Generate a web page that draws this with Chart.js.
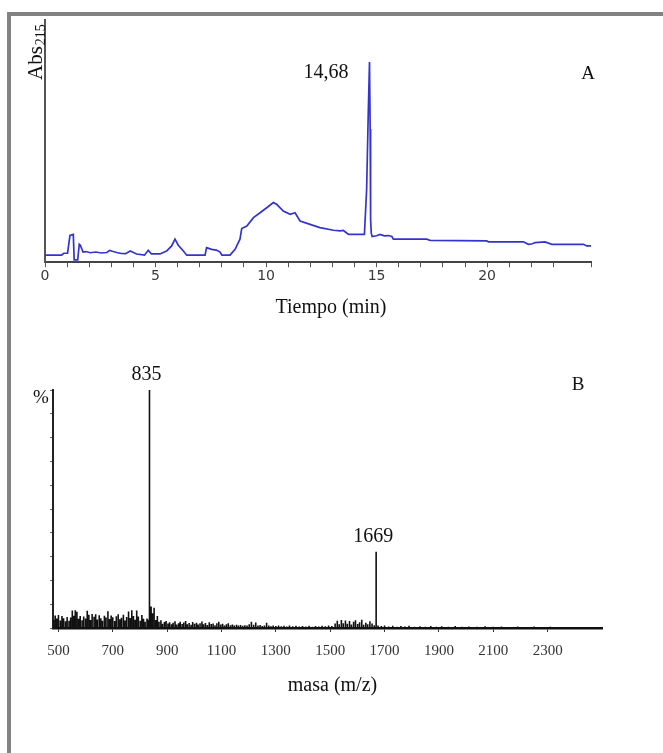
<!DOCTYPE html>
<html>
<head>
<meta charset="utf-8">
<script src="https://cdn.jsdelivr.net/npm/chart.js@4.4.1/dist/chart.umd.min.js"></script>
<style>
  html, body { margin: 0; padding: 0; background: #fff; width: 663px; height: 753px; overflow: hidden; }
  #frame { position: absolute; left: 7px; top: 12px; width: 720px; height: 800px;
           border-top: 4px solid #828282; border-left: 4px solid #828282; box-sizing: border-box; }
  canvas { position: absolute; left: 0; }
  #chartA { top: 0; }
  #chartB { top: 330px; }
</style>
</head>
<body>
<div id="frame"></div>
<canvas id="chartA" width="663" height="330"></canvas>
<canvas id="chartB" width="663" height="423"></canvas>
<script>
// ---- Panel A: HPLC chromatogram (absorbance at 215 nm vs time) ----
const retentionTime = [
  0.00, 0.75, 0.85, 1.02, 1.13, 1.28, 1.32, 1.48, 1.55, 1.60, 1.72, 1.85, 2.05, 2.30, 2.55, 2.80,
  2.92, 3.05, 3.24, 3.45, 3.65, 3.85, 4.00, 4.15, 4.50, 4.67, 4.82, 5.20, 5.50, 5.73, 5.88, 6.03,
  6.26, 6.41, 7.24, 7.31, 7.54, 7.75, 7.92, 8.00, 8.37, 8.60, 8.82, 8.90, 9.13, 9.43, 9.73, 10.03,
  10.33, 10.48, 10.78, 11.09, 11.31, 11.54, 11.99, 12.44, 13.05, 13.35, 13.50, 13.73, 14.45, 14.55,
  14.62, 14.68, 14.71, 14.73, 14.76, 14.80, 15.00, 15.16, 15.35, 15.55, 15.69, 15.76, 17.27, 17.42,
  19.98, 20.06, 21.64, 21.87, 22.05, 22.17, 22.62, 22.93, 24.36, 24.51, 24.70
];
const absorbance = [
  2.9, 2.9, 3.7, 3.7, 11.1, 11.5, 1.0, 1.0, 7.4, 7.0, 4.2, 4.4, 3.9, 4.2, 3.8, 4.0,
  4.9, 4.5, 4.0, 3.6, 3.5, 4.6, 4.0, 3.4, 2.9, 4.9, 3.4, 3.4, 4.6, 6.7, 9.5, 7.0,
  4.6, 2.9, 2.9, 6.0, 5.3, 5.0, 4.2, 2.9, 2.9, 5.3, 9.5, 13.9, 14.9, 18.4, 20.4, 22.5,
  24.6, 23.9, 21.1, 19.8, 20.4, 17.0, 15.6, 14.3, 13.2, 12.9, 13.1, 11.5, 11.5, 30.0,
  60.0, 82.7, 55.0, 17.7, 12.0, 10.6, 10.9, 11.5, 10.9, 11.0, 10.6, 9.5, 9.5, 9.05,
  8.8, 8.4, 8.4, 7.4, 7.6, 8.1, 8.4, 7.4, 7.4, 6.7, 6.7
];
const labelledRetention = 14.68;
const timeAxisMax = 24.7;
const timeTickStep = 1;
const timeLabelEvery = 5;

// ---- Panel B: ESI mass spectrum of the collected fraction ----
const massTickLabels = [500, 700, 900, 1100, 1300, 1500, 1700, 1900, 2100, 2300];
const labelledMz = [835, 1669];
const labelledIntensity = [100, 32];
const noiseMz = [
  482, 488, 494, 500, 507, 513, 519, 526, 532, 539, 545, 551, 556, 562, 568, 574, 580, 587, 593, 600,
  606, 612, 618, 624, 631, 637, 643, 650, 656, 662, 669, 675, 682, 688, 694, 700, 707, 713, 720, 726,
  732, 739, 745, 751, 758, 764, 770, 776, 782, 788, 794, 801, 807, 813, 819, 826, 831, 841, 846, 852,
  858, 864, 870, 877, 883, 890, 896, 903, 909, 916, 922, 929, 935, 942, 948, 955, 961, 968, 974, 981,
  988, 994, 1001, 1008, 1014, 1021, 1028, 1034, 1041, 1048, 1055, 1062, 1069, 1076, 1083, 1090, 1097,
  1104, 1111, 1118, 1125, 1133, 1140, 1147, 1155, 1162, 1170, 1178, 1186, 1194, 1202, 1210, 1218, 1226,
  1234, 1242, 1250, 1258, 1266, 1274, 1282, 1290, 1300, 1310, 1320, 1330, 1340, 1350, 1362, 1374, 1386,
  1398, 1410, 1422, 1434, 1446, 1458, 1470, 1482, 1494, 1506, 1518, 1526, 1533, 1541, 1548, 1556, 1563,
  1571, 1578, 1586, 1593, 1601, 1608, 1616, 1623, 1631, 1638, 1646, 1654, 1662, 1676, 1688, 1700, 1715,
  1730, 1745, 1760, 1775, 1790, 1810, 1830, 1850, 1870, 1890, 1910, 1935, 1960, 1985, 2010, 2040, 2070,
  2100, 2130, 2160, 2190, 2220, 2250, 2280, 2310, 2340
];
const noiseIntensity = [
  3.5, 5.2, 4.0, 5.5, 3.2, 5.0, 4.1, 2.8, 4.6, 3.0, 4.4, 7.4, 5.1, 7.5, 6.8, 3.9, 5.0, 3.3, 4.8, 4.0,
  7.2, 5.6, 3.4, 5.9, 4.7, 5.8, 3.6, 5.4, 4.1, 3.0, 5.1, 4.4, 7.0, 3.8, 5.3, 4.5, 2.9, 4.9, 5.8, 3.7,
  4.3, 5.6, 3.1, 4.6, 6.9, 4.2, 7.5, 5.0, 3.5, 7.4, 4.8, 3.0, 5.5, 3.9, 2.6, 4.0, 3.5, 9.0, 6.2, 8.5,
  3.4, 5.0, 2.6, 3.3, 1.8, 2.5, 2.9, 1.9, 2.4, 1.6, 2.2, 2.8, 1.5, 2.0, 2.6, 1.7, 2.3, 2.9, 1.6, 2.1,
  1.4, 2.5, 1.8, 2.2, 1.5, 2.0, 2.7, 1.6, 2.1, 1.3, 2.4, 1.7, 1.9, 1.2, 2.0, 2.6, 1.5,
  1.8, 1.1, 1.6, 2.0, 1.2, 1.5, 1.0, 1.4, 1.1, 1.3, 0.9, 1.2, 1.0, 1.6, 2.6, 1.4, 2.3,
  1.0, 1.3, 0.8, 1.1, 2.2, 1.0, 0.7, 1.0, 0.8, 1.1, 0.7, 0.9, 0.6, 1.0, 0.7, 0.9, 0.6,
  0.8, 0.6, 0.9, 0.5, 0.8, 0.6, 0.9, 0.7, 1.0, 0.8, 1.9, 3.0, 1.6, 3.4, 2.0, 3.2, 1.8,
  2.9, 1.5, 2.6, 3.3, 1.7, 2.4, 3.5, 1.4, 2.2, 1.6, 2.8, 1.9, 1.2, 1.0, 0.8, 1.1, 0.6,
  0.9, 0.5, 0.8, 0.6, 0.9, 0.5, 0.7, 0.5, 0.8, 0.5, 0.7, 0.5, 0.8, 0.5, 0.6, 0.5, 0.7,
  0.5, 0.6, 0.4, 0.6, 0.4, 0.6, 0.4, 0.5, 0.4
];
const massAxisMin = 480;
const massAxisMax = 2500;

const SERIF = "'Liberation Serif', 'Times New Roman', serif";
const TEXT = '#111';

// Text layer for the chromatogram: peak label, panel letter and axis titles
const chromatogramText = {
  id: 'chromatogramText',
  afterDraw(chart) {
    const { ctx, chartArea: a, scales: { x, y } } = chart;
    ctx.save();
    ctx.fillStyle = TEXT;
    const i = retentionTime.indexOf(labelledRetention);
    const px = x.getPixelForValue(labelledRetention);
    const py = y.getPixelForValue(absorbance[i]);
    ctx.font = `20px ${SERIF}`;
    ctx.textAlign = 'right';
    ctx.textBaseline = 'middle';
    ctx.fillText(labelledRetention.toFixed(2).replace('.', ','), px - 21, py + 11);

    ctx.textAlign = 'center';
    ctx.font = `19px ${SERIF}`;
    ctx.fillText('A', a.right - 3, a.top + 54);

    ctx.font = `20px ${SERIF}`;
    ctx.fillText('Tiempo (min)', (a.left + a.right) / 2 + 13, a.bottom + 46);

    // rotated y title with subscript wavelength
    ctx.translate(a.left - 3, a.top + 60);
    ctx.rotate(-Math.PI / 2);
    ctx.textAlign = 'left';
    ctx.textBaseline = 'alphabetic';
    ctx.font = `21px ${SERIF}`;
    ctx.fillText('Abs', 0, 0);
    const w = ctx.measureText('Abs').width;
    ctx.font = `14px ${SERIF}`;
    ctx.fillText('215', w + 1, 3);
    ctx.restore();
  }
};

// Text layer for the spectrum: m/z labels, panel letter, axis titles
const spectrumText = {
  id: 'spectrumText',
  afterDraw(chart) {
    const { ctx, chartArea: a, scales: { x, y } } = chart;
    ctx.save();
    ctx.fillStyle = TEXT;
    ctx.textAlign = 'center';
    ctx.textBaseline = 'middle';
    ctx.font = `20px ${SERIF}`;
    labelledMz.forEach((m, i) => {
      ctx.fillText(String(m), x.getPixelForValue(m) - 3, y.getPixelForValue(labelledIntensity[i]) - 15);
    });
    ctx.font = `19px ${SERIF}`;
    ctx.fillText('B', a.right - 24, a.top - 5);
    ctx.fillText('%', a.left - 12, a.top + 8);
    ctx.font = `20px ${SERIF}`;
    ctx.fillText('masa (m/z)', (a.left + a.right) / 2 + 5, a.bottom + 58);
    ctx.restore();
  }
};

new Chart(document.getElementById('chartA'), {
  type: 'line',
  data: {
    datasets: [{
      data: retentionTime.map((t, i) => ({ x: t, y: absorbance[i] })),
      borderColor: '#3434cc',
      borderWidth: 1.7,
      pointRadius: 0,
      tension: 0,
      fill: false
    }]
  },
  options: {
    responsive: false,
    animation: false,
    events: [],
    layout: { padding: { left: 45, top: 20, right: 72, bottom: 44 } },
    plugins: { legend: { display: false }, tooltip: { enabled: false } },
    scales: {
      x: {
        type: 'linear', min: 0, max: timeAxisMax,
        ticks: {
          stepSize: timeTickStep, autoSkip: false, maxRotation: 0, padding: 1,
          color: '#3a3a3a', font: { family: 'DejaVu Sans', size: 14 },
          callback: v => (Math.abs(v % timeLabelEvery) < 1e-6 ? String(v) : '')
        },
        grid: { display: true, drawOnChartArea: false, drawTicks: true, tickLength: 5, color: '#555', lineWidth: 1 },
        border: { display: true, color: '#444', width: 2 }
      },
      y: {
        min: 0, max: 100,
        ticks: { display: false },
        grid: { display: false, drawTicks: false },
        border: { display: true, color: '#555', width: 2 }
      }
    }
  },
  plugins: [chromatogramText]
});

// sticks of the spectrum, ordered by m/z
const sticks = noiseMz.map((m, i) => [m, noiseIntensity[i]])
  .concat(labelledMz.map((m, i) => [m, labelledIntensity[i]]))
  .sort((p, q) => p[0] - q[0]);
const stickPoints = [];
sticks.forEach(([m, h]) => { stickPoints.push({ x: m, y: 0 }, { x: m, y: h }, { x: m, y: 0 }); });

new Chart(document.getElementById('chartB'), {
  type: 'line',
  data: {
    datasets: [{
      data: stickPoints,
      borderColor: '#111',
      borderWidth: 1.6,
      pointRadius: 0,
      tension: 0,
      fill: false
    }]
  },
  options: {
    responsive: false,
    animation: false,
    events: [],
    layout: { padding: { left: 50, top: 60, right: 61, bottom: 83 } },
    plugins: { legend: { display: false }, tooltip: { enabled: false } },
    scales: {
      x: {
        type: 'linear', min: massAxisMin, max: massAxisMax,
        afterBuildTicks: axis => { axis.ticks = massTickLabels.map(v => ({ value: v })); },
        ticks: {
          autoSkip: false, maxRotation: 0, padding: 10,
          color: '#333', font: { family: "'Liberation Serif', serif", size: 15 },
          callback: v => String(v)
        },
        grid: { display: true, drawOnChartArea: false, tickLength: 4, color: '#333' },
        border: { display: true, color: '#111', width: 2.5 }
      },
      y: {
        min: 0, max: 100,
        ticks: { display: false, stepSize: 10 },
        grid: { display: true, drawOnChartArea: false, tickLength: 3, color: '#666' },
        border: { display: true, color: '#222', width: 2 }
      }
    }
  },
  plugins: [spectrumText]
});
</script>
</body>
</html>
